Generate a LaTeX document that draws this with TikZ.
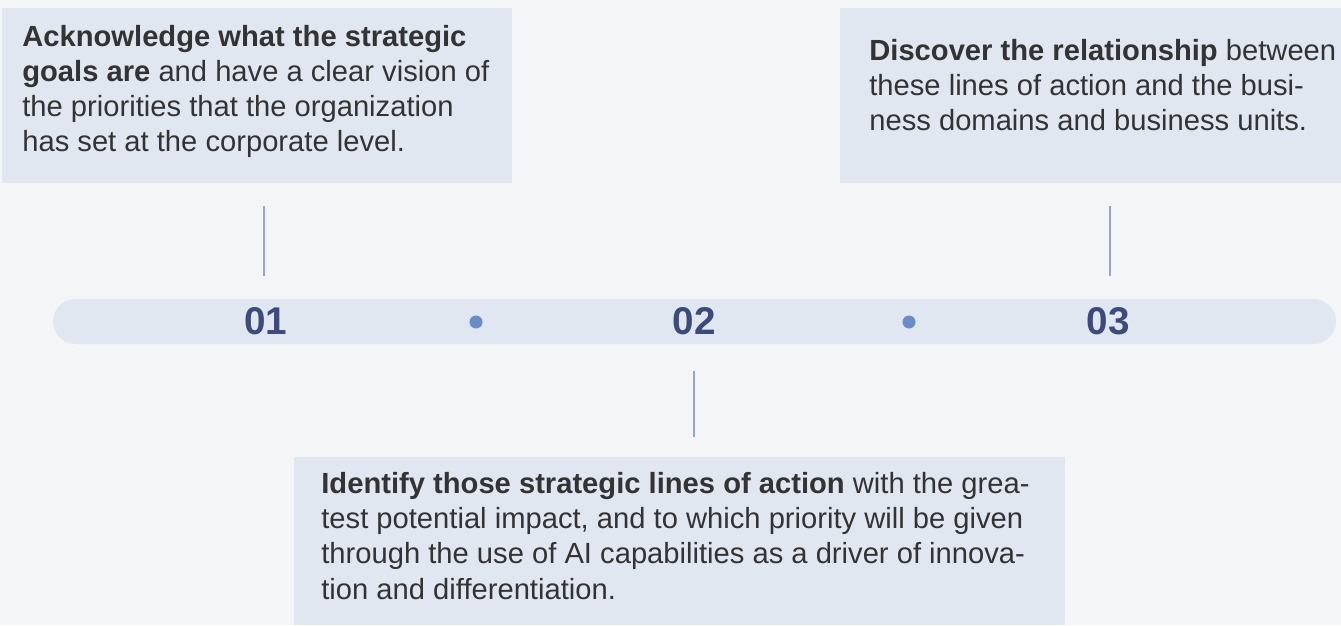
\documentclass[tikz,border=0pt]{standalone}
\usepackage{fontspec}
\setmainfont{Liberation Sans}
\definecolor{pagebg}{HTML}{F3F5F6}
\definecolor{panelbg}{HTML}{E0E7F0}
\definecolor{textgray}{HTML}{333333}
\definecolor{numblue}{HTML}{3E4A7A}
\definecolor{tickblue}{HTML}{8FA6D8}
\definecolor{dotblue}{HTML}{6A8AC8}
\tikzset{
  panel/.style={fill=panelbg, inner sep=0pt, anchor=north west},
  txt/.style={text=textgray, inner sep=0pt, anchor=base west, align=left,
    font=\fontsize{16.6}{20.1}\selectfont},
  num/.style={text=numblue, inner sep=0pt, font=\fontsize{22}{24}\selectfont\bfseries},
  tick/.style={draw=tickblue, line width=1.2pt},
  dot/.style={fill=dotblue}
}
\begin{document}
\begin{tikzpicture}[x=0.02cm, y=-0.02cm]
\fill[pagebg] (0,0) rectangle (1341,625);
\useasboundingbox (0,0) rectangle (1341,625);
\node[panel, minimum width=510*0.02cm, minimum height=175*0.02cm] (box1) at (2,8) {};
\node[panel, minimum width=501*0.02cm, minimum height=175*0.02cm] (box2) at (840,8) {};
\node[panel, minimum width=771*0.02cm, minimum height=168*0.02cm] (box3) at (294,457) {};
\node[txt] (text1) at (22,152) {\textbf{Acknowledge what the strategic}\\
\textbf{goals are} and have a clear vision of\\
the priorities that the organization\\
has set at the corporate level.};
\node[txt] (text2) at (869,131) {\textbf{Discover the relationship} between\\
these lines of action and the busi-\\
ness domains and business units.};
\node[txt] (text3) at (321,599) {\textbf{Identify those strategic lines of action} with the grea-\\
test potential impact, and to which priority will be given\\
through the use of AI capabilities as a driver of innova-\\
tion and differentiation.};
\fill[panelbg, rounded corners=0.45cm] (53,299) rectangle (1336,344);
\node[num] (n1) at (266,321) {01};
\node[num] (n2) at (694,321) {02};
\node[num] (n3) at (1108,321) {03};
\fill[dot] (476,322) circle[radius=6.5];
\fill[dot] (909,322) circle[radius=6.5];
\coordinate (a1) at (264,206); \coordinate (b1) at (264,276);
\coordinate (a2) at (694,371); \coordinate (b2) at (694,437);
\coordinate (a3) at (1110,206); \coordinate (b3) at (1110,276);
\draw[tick] (a1) -- (b1);
\draw[tick] (a2) -- (b2);
\draw[tick] (a3) -- (b3);
\end{tikzpicture}
\end{document}
